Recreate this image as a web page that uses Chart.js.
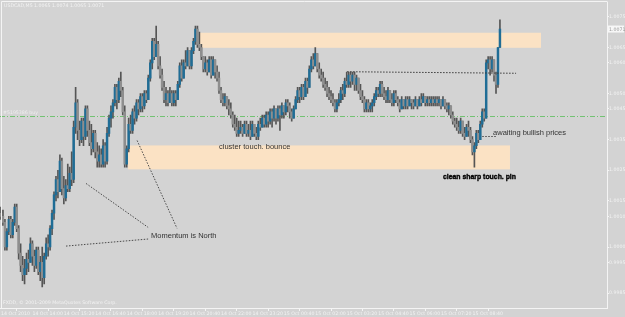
<!DOCTYPE html>
<html><head><meta charset="utf-8">
<script src="https://cdn.jsdelivr.net/npm/chart.js@4.4.0/dist/chart.umd.min.js"></script>
<style>html,body{margin:0;padding:0;background:#d3d3d3;overflow:hidden}</style>
</head><body>
<canvas id="c" width="625" height="317"></canvas>
<script>
// ---------------- DATA ----------------
const symbolTitle = "USDCAD,M5 1.0065 1.0074 1.0065 1.0071";
const copyrightText = "FXDD, \u00A9 2001-2009 MetaQuotes Software Corp.";
const timeTickLabels = ["14 Oct 2010","14 Oct 14:00","14 Oct 15:20","14 Oct 16:40","14 Oct 18:00","14 Oct 19:20","14 Oct 20:40","14 Oct 22:00","14 Oct 23:20","15 Oct 00:40","15 Oct 02:00","15 Oct 03:20","15 Oct 04:40","15 Oct 06:00","15 Oct 07:20","15 Oct 08:40"];
const barsPerTimeTick = 16;
const priceTicks = [1.0075,1.0065,1.0060,1.0050,1.0045,1.0035,1.0025,1.0015,1.0010,1.0000,0.9995,0.9985];
const currentPrice = 1.0071;
const totalSlots = 309;

const opens = [
1.0011,1.0010,1.0008,1.0000,1.0005,1.0009,1.0004,1.0008,1.0013,1.0006,
0.9998,0.9994,0.9991,0.9993,0.9996,0.9995,1.0001,0.9997,0.9994,0.9999,
0.9992,0.9995,0.9990,0.9997,1.0001,1.0000,1.0006,1.0011,1.0017,1.0022,
1.0018,1.0028,1.0019,1.0016,1.0020,1.0019,1.0024,1.0022,1.0039,1.0047,
1.0038,1.0035,1.0041,1.0036,1.0045,1.0038,1.0034,1.0032,1.0037,1.0031,
1.0028,1.0030,1.0027,1.0033,1.0028,1.0037,1.0042,1.0044,1.0047,1.0052,
1.0048,1.0054,1.0051,1.0044,1.0027,1.0032,1.0040,1.0038,1.0044,1.0042,
1.0047,1.0045,1.0049,1.0046,1.0050,1.0048,1.0055,1.0060,1.0067,1.0062,
1.0066,1.0059,1.0056,1.0052,1.0048,1.0050,1.0047,1.0050,1.0047,1.0050,
1.0048,1.0053,1.0059,1.0055,1.0060,1.0059,1.0064,1.0059,1.0064,1.0067,
1.0071,1.0066,1.0065,1.0062,1.0058,1.0060,1.0057,1.0061,1.0056,1.0061,
1.0057,1.0055,1.0051,1.0048,1.0047,1.0049,1.0046,1.0045,1.0043,1.0040,
1.0039,1.0037,1.0038,1.0039,1.0037,1.0040,1.0037,1.0038,1.0036,1.0040,
1.0037,1.0036,1.0040,1.0039,1.0042,1.0040,1.0043,1.0041,1.0044,1.0042,
1.0045,1.0042,1.0045,1.0043,1.0046,1.0044,1.0047,1.0046,1.0044,1.0042,
1.0045,1.0048,1.0051,1.0049,1.0052,1.0049,1.0054,1.0052,1.0058,1.0061,
1.0059,1.0063,1.0058,1.0056,1.0055,1.0053,1.0052,1.0050,1.0049,1.0048,
1.0047,1.0045,1.0047,1.0048,1.0051,1.0050,1.0054,1.0053,1.0056,1.0054,
1.0056,1.0053,1.0055,1.0051,1.0049,1.0048,1.0045,1.0047,1.0045,1.0046,
1.0047,1.0049,1.0051,1.0050,1.0053,1.0050,1.0049,1.0048,1.0051,1.0048,
1.0047,1.0050,1.0048,1.0047,1.0045,1.0048,1.0046,1.0048,1.0046,1.0048,
1.0047,1.0046,1.0048,1.0046,1.0048,1.0047,1.0049,1.0047,1.0048,1.0047,
1.0048,1.0047,1.0048,1.0047,1.0048,1.0046,1.0048,1.0046,1.0045,1.0046,
1.0043,1.0041,1.0040,1.0039,1.0038,1.0041,1.0037,1.0036,1.0039,1.0038,
1.0035,1.0031,1.0033,1.0037,1.0035,1.0040,1.0044,1.0042,1.0060,1.0061,
1.0058,1.0061,1.0056,1.0053,1.0065];

const highs = [
1.0013,1.0012,1.0009,1.0006,1.0010,1.0010,1.0009,1.0014,1.0014,1.0007,
1.0001,0.9997,0.9996,0.9998,0.9999,1.0003,1.0002,0.9999,1.0000,1.0000,
0.9997,1.0000,0.9998,1.0003,1.0004,1.0007,1.0012,1.0018,1.0023,1.0025,
1.0030,1.0029,1.0023,1.0022,1.0027,1.0026,1.0031,1.0041,1.0052,1.0048,
1.0041,1.0042,1.0042,1.0046,1.0046,1.0041,1.0040,1.0038,1.0038,1.0034,
1.0033,1.0032,1.0035,1.0034,1.0039,1.0043,1.0046,1.0048,1.0053,1.0053,
1.0055,1.0057,1.0052,1.0046,1.0033,1.0042,1.0043,1.0045,1.0046,1.0048,
1.0048,1.0050,1.0050,1.0051,1.0051,1.0056,1.0061,1.0068,1.0068,1.0072,
1.0067,1.0062,1.0058,1.0054,1.0052,1.0051,1.0052,1.0051,1.0051,1.0051,
1.0054,1.0060,1.0061,1.0061,1.0064,1.0065,1.0064,1.0065,1.0068,1.0072,
1.0072,1.0070,1.0066,1.0062,1.0062,1.0061,1.0062,1.0062,1.0062,1.0061,
1.0059,1.0057,1.0052,1.0050,1.0050,1.0049,1.0048,1.0047,1.0044,1.0043,
1.0042,1.0041,1.0041,1.0040,1.0041,1.0041,1.0040,1.0041,1.0041,1.0040,
1.0039,1.0041,1.0042,1.0043,1.0043,1.0044,1.0044,1.0045,1.0045,1.0046,
1.0045,1.0046,1.0046,1.0047,1.0046,1.0048,1.0048,1.0047,1.0045,1.0046,
1.0049,1.0052,1.0052,1.0053,1.0053,1.0055,1.0055,1.0059,1.0062,1.0063,
1.0065,1.0063,1.0060,1.0058,1.0057,1.0055,1.0054,1.0052,1.0051,1.0050,
1.0048,1.0048,1.0050,1.0052,1.0053,1.0055,1.0057,1.0057,1.0057,1.0057,
1.0057,1.0056,1.0055,1.0053,1.0051,1.0049,1.0048,1.0048,1.0047,1.0048,
1.0050,1.0052,1.0052,1.0054,1.0054,1.0052,1.0051,1.0052,1.0051,1.0050,
1.0051,1.0051,1.0049,1.0048,1.0049,1.0048,1.0049,1.0049,1.0049,1.0048,
1.0048,1.0049,1.0048,1.0049,1.0050,1.0050,1.0049,1.0049,1.0049,1.0049,
1.0049,1.0049,1.0049,1.0049,1.0048,1.0049,1.0048,1.0047,1.0047,1.0046,
1.0044,1.0042,1.0042,1.0041,1.0042,1.0041,1.0039,1.0040,1.0041,1.0039,
1.0036,1.0034,1.0038,1.0038,1.0041,1.0045,1.0045,1.0061,1.0062,1.0062,
1.0062,1.0061,1.0057,1.0065,1.0074];

const lows = [
1.0009,1.0007,0.9999,0.9999,1.0004,1.0003,1.0003,1.0007,1.0005,0.9996,
0.9992,0.9989,0.9988,0.9991,0.9992,0.9995,0.9994,0.9992,0.9993,0.9991,
0.9989,0.9987,0.9988,0.9996,0.9997,0.9999,1.0004,1.0009,1.0015,1.0016,
1.0018,1.0017,1.0014,1.0015,1.0018,1.0018,1.0020,1.0021,1.0037,1.0035,
1.0033,1.0034,1.0033,1.0035,1.0036,1.0033,1.0030,1.0031,1.0029,1.0026,
1.0026,1.0026,1.0026,1.0026,1.0027,1.0036,1.0039,1.0042,1.0046,1.0045,
1.0047,1.0049,1.0043,1.0026,1.0026,1.0031,1.0037,1.0037,1.0040,1.0041,
1.0043,1.0044,1.0044,1.0045,1.0047,1.0048,1.0054,1.0058,1.0061,1.0062,
1.0058,1.0055,1.0051,1.0047,1.0046,1.0046,1.0047,1.0046,1.0046,1.0046,
1.0048,1.0052,1.0054,1.0055,1.0058,1.0059,1.0058,1.0058,1.0063,1.0066,
1.0065,1.0064,1.0061,1.0057,1.0057,1.0056,1.0057,1.0055,1.0056,1.0055,
1.0054,1.0050,1.0047,1.0046,1.0046,1.0045,1.0043,1.0042,1.0039,1.0038,
1.0036,1.0036,1.0037,1.0036,1.0037,1.0036,1.0036,1.0035,1.0036,1.0036,
1.0035,1.0035,1.0038,1.0039,1.0039,1.0039,1.0039,1.0040,1.0039,1.0041,
1.0040,1.0041,1.0038,1.0042,1.0042,1.0043,1.0044,1.0042,1.0041,1.0042,
1.0045,1.0047,1.0047,1.0048,1.0048,1.0049,1.0050,1.0052,1.0057,1.0058,
1.0059,1.0057,1.0055,1.0054,1.0052,1.0051,1.0049,1.0048,1.0047,1.0046,
1.0044,1.0044,1.0046,1.0047,1.0048,1.0049,1.0052,1.0052,1.0052,1.0053,
1.0051,1.0051,1.0050,1.0048,1.0047,1.0044,1.0044,1.0044,1.0044,1.0044,
1.0046,1.0048,1.0049,1.0049,1.0049,1.0048,1.0047,1.0047,1.0047,1.0046,
1.0046,1.0047,1.0046,1.0044,1.0045,1.0045,1.0045,1.0045,1.0046,1.0045,
1.0045,1.0046,1.0045,1.0046,1.0046,1.0047,1.0046,1.0046,1.0046,1.0046,
1.0046,1.0046,1.0046,1.0046,1.0045,1.0046,1.0045,1.0044,1.0043,1.0042,
1.0040,1.0039,1.0038,1.0037,1.0037,1.0036,1.0035,1.0036,1.0036,1.0034,
1.0030,1.0026,1.0032,1.0034,1.0035,1.0039,1.0041,1.0042,1.0058,1.0056,
1.0057,1.0054,1.0050,1.0052,1.0065];

const closes = [
1.0010,1.0008,1.0000,1.0005,1.0009,1.0004,1.0008,1.0013,1.0006,0.9998,
0.9994,0.9991,0.9993,0.9996,0.9995,1.0001,0.9997,0.9994,0.9999,0.9992,
0.9995,0.9990,0.9997,1.0001,1.0000,1.0006,1.0011,1.0017,1.0022,1.0018,
1.0028,1.0019,1.0016,1.0020,1.0019,1.0024,1.0022,1.0039,1.0047,1.0038,
1.0035,1.0041,1.0036,1.0045,1.0038,1.0034,1.0032,1.0037,1.0031,1.0028,
1.0030,1.0027,1.0033,1.0028,1.0037,1.0042,1.0044,1.0047,1.0052,1.0048,
1.0054,1.0051,1.0044,1.0027,1.0032,1.0040,1.0038,1.0044,1.0042,1.0047,
1.0045,1.0049,1.0046,1.0050,1.0048,1.0055,1.0060,1.0067,1.0062,1.0066,
1.0059,1.0056,1.0052,1.0048,1.0050,1.0047,1.0050,1.0047,1.0050,1.0048,
1.0053,1.0059,1.0055,1.0060,1.0059,1.0064,1.0059,1.0064,1.0067,1.0071,
1.0066,1.0065,1.0062,1.0058,1.0060,1.0057,1.0061,1.0056,1.0061,1.0057,
1.0055,1.0051,1.0048,1.0047,1.0049,1.0046,1.0045,1.0043,1.0040,1.0039,
1.0037,1.0038,1.0039,1.0037,1.0040,1.0037,1.0038,1.0036,1.0040,1.0037,
1.0036,1.0040,1.0039,1.0042,1.0040,1.0043,1.0041,1.0044,1.0042,1.0045,
1.0042,1.0045,1.0043,1.0046,1.0044,1.0047,1.0046,1.0044,1.0042,1.0045,
1.0048,1.0051,1.0049,1.0052,1.0049,1.0054,1.0052,1.0058,1.0061,1.0059,
1.0063,1.0058,1.0056,1.0055,1.0053,1.0052,1.0050,1.0049,1.0048,1.0047,
1.0045,1.0047,1.0048,1.0051,1.0050,1.0054,1.0053,1.0056,1.0054,1.0056,
1.0053,1.0055,1.0051,1.0049,1.0048,1.0045,1.0047,1.0045,1.0046,1.0047,
1.0049,1.0051,1.0050,1.0053,1.0050,1.0049,1.0048,1.0051,1.0048,1.0047,
1.0050,1.0048,1.0047,1.0045,1.0048,1.0046,1.0048,1.0046,1.0048,1.0047,
1.0046,1.0048,1.0046,1.0048,1.0047,1.0049,1.0047,1.0048,1.0047,1.0048,
1.0047,1.0048,1.0047,1.0048,1.0046,1.0048,1.0046,1.0045,1.0046,1.0043,
1.0041,1.0040,1.0039,1.0038,1.0041,1.0037,1.0036,1.0039,1.0038,1.0035,
1.0031,1.0033,1.0037,1.0035,1.0040,1.0044,1.0042,1.0060,1.0061,1.0058,
1.0061,1.0056,1.0053,1.0065,1.0071];

// drawn objects (bar index, price)
const zones = [
  {from:100.5, to:274.9, low:1.00649, high:1.00698},
  {from:64.7, to:259.1, low:1.00253, high:1.00331}
];
const orderLevel = 1.00428;
const orderLabel = "#5195386 buy";
const dottedLines = [
  {x0:176.2, p0:1.00571, x1:262.2, p1:1.00566, color:'#3a3a3a'},
  {x0:33.1, p0:1.00003, x1:74.9, p1:1.00026, color:'#4a4a4a'},
  {x0:43.3, p0:1.00207, x1:74.9, p1:1.00064, color:'#4a4a4a'},
  {x0:69.3, p0:1.00347, x1:89.6, p1:1.00061, color:'#4a4a4a'},
  {x0:245.0, p0:1.00360, x1:252.6, p1:1.00360, color:'#4a4a4a'}
];
const notes = [
  {text:"cluster touch. bounce", x:111.0, p:1.00318, bold:false},
  {text:"awaiting bullish prices", x:250.5, p:1.00365, bold:false},
  {text:"clean sharp touch. pin", x:225.0, p:1.00222, bold:true},
  {text:"Momentum is North", x:76.4, p:1.00030, bold:false}
];

// ---------------- STYLE ----------------
const BG = '#d3d3d3', AXIS = '#f4f4f4', WICK = '#555555', BULL = '#1f6d96', BEAR = '#8e8e8e', ZONE = '#fbe2c4';
const UIFONT = '"DejaVu Sans", sans-serif';
const NOTEFONT = '"Liberation Sans", Arial, sans-serif';

const overlay = {
  id: 'mt4',
  beforeDraw(chart) {
    const c = chart.ctx; c.save(); c.fillStyle = BG; c.fillRect(0, 0, chart.width, chart.height); c.restore();
  },
  beforeDatasetsDraw(chart) {
    const c = chart.ctx, x = chart.scales.x, y = chart.scales.y, a = chart.chartArea;
    c.save();
    c.beginPath(); c.rect(a.left, a.top, a.right - a.left, a.bottom - a.top); c.clip();
    c.fillStyle = ZONE;
    zones.forEach(z => {
      const x0 = x.getPixelForValue(z.from), x1 = x.getPixelForValue(z.to);
      const y0 = y.getPixelForValue(z.high), y1 = y.getPixelForValue(z.low);
      c.fillRect(x0, y0, x1 - x0, y1 - y0);
    });
    const yo = Math.round(y.getPixelForValue(orderLevel)) + 0.5;
    c.strokeStyle = '#72c272'; c.lineWidth = 1; c.setLineDash([5, 2, 1, 2]);
    c.beginPath(); c.moveTo(a.left, yo); c.lineTo(a.right, yo); c.stroke();
    c.setLineDash([]);
    c.fillStyle = '#eeeeee'; c.font = '4.7px ' + UIFONT; c.textBaseline = 'bottom'; c.textAlign = 'left';
    c.fillText(orderLabel, a.left + 3, yo - 1);
    c.restore();
  },
  afterDatasetsDraw(chart) {
    const c = chart.ctx, x = chart.scales.x, y = chart.scales.y;
    c.save();
    c.lineWidth = 1; c.setLineDash([1.5, 1.5]);
    dottedLines.forEach(l => {
      c.strokeStyle = l.color;
      c.beginPath();
      c.moveTo(x.getPixelForValue(l.x0), y.getPixelForValue(l.p0));
      c.lineTo(x.getPixelForValue(l.x1), y.getPixelForValue(l.p1));
      c.stroke();
    });
    c.setLineDash([]);
    c.textAlign = 'left'; c.textBaseline = 'alphabetic';
    notes.forEach(n => {
      const px = x.getPixelForValue(n.x), py = y.getPixelForValue(n.p);
      c.save(); c.translate(px, py);
      if (n.bold) {
        c.scale(0.86, 1);
        c.font = 'bold 8px ' + NOTEFONT; c.fillStyle = '#000000'; c.strokeStyle = '#000000'; c.lineWidth = 0.4;
        c.strokeText(n.text, 0, 0); c.fillText(n.text, 0, 0);
      } else {
        c.font = '7.5px ' + NOTEFONT; c.fillStyle = '#333333';
        c.fillText(n.text, 0, 0);
      }
      c.restore();
    });
    c.restore();
  },
  afterDraw(chart) {
    const c = chart.ctx, a = chart.chartArea, y = chart.scales.y;
    c.save();
    c.strokeStyle = AXIS; c.lineWidth = 1;
    c.beginPath(); c.moveTo(1.5, a.bottom + 0.5); c.lineTo(1.5, 1.5); c.lineTo(a.right + 0.5, 1.5); c.stroke();
    c.fillStyle = '#f2f2f2'; c.font = '4.7px ' + UIFONT; c.textAlign = 'left'; c.textBaseline = 'middle';
    c.fillText(symbolTitle, 4, 6);
    c.fillText(copyrightText, 3, a.bottom - 5);
    // current price label
    const py = y.getPixelForValue(currentPrice);
    c.fillStyle = '#f7f7f7'; c.fillRect(a.right + 1, py - 3.5, 16, 7);
    c.fillStyle = '#9a9a9a'; c.fillText(currentPrice.toFixed(4), a.right + 2, py + 0.5);
    c.restore();
  }
};

const labels = Array.from({length: totalSlots}, (_, i) => String(i));
const wickData = lows.map((l, i) => [l, highs[i]]);
const bodyData = opens.map((o, i) => [o, closes[i]]);
const bodyColors = opens.map((o, i) => closes[i] >= o ? BULL : BEAR);

new Chart(document.getElementById('c'), {
  type: 'bar',
  data: {
    labels,
    datasets: [
      {data: wickData, backgroundColor: WICK, barThickness: 1, grouped: false, order: 2},
      {data: bodyData, backgroundColor: bodyColors, barThickness: 1.8, grouped: false, minBarLength: 1, order: 1}
    ]
  },
  options: {
    responsive: false, animation: false, devicePixelRatio: 1,
    layout: {padding: {top: 2, left: 0, right: 0, bottom: 0}},
    plugins: {legend: {display: false}, tooltip: {enabled: false}},
    scales: {
      x: {
        type: 'category', offset: true, position: 'bottom',
        afterBuildTicks(s) { s.ticks = timeTickLabels.map((_, k) => ({value: k * barsPerTimeTick})); },
        afterFit(s) { s.height = 9; },
        ticks: {autoSkip: false, maxRotation: 0, minRotation: 0, align: 'start', padding: 0, color: '#f2f2f2',
          font: {family: UIFONT, size: 4.7},
          callback: (v) => timeTickLabels[v / barsPerTimeTick] ?? ''},
        grid: {drawOnChartArea: false, drawTicks: true, tickLength: 3, color: AXIS},
        border: {display: true, color: AXIS}
      },
      y: {
        type: 'linear', position: 'right', min: 0.998013, max: 1.007955,
        afterBuildTicks(s) { s.ticks = priceTicks.map(v => ({value: v})); },
        afterFit(s) { s.width = 18; },
        ticks: {padding: 0, color: '#f2f2f2', font: {family: UIFONT, size: 4.7}, callback: v => Number(v).toFixed(4)},
        grid: {drawOnChartArea: false, drawTicks: true, tickLength: 2, color: AXIS},
        border: {display: true, color: AXIS}
      }
    }
  },
  plugins: [overlay]
});
</script>
</body></html>
